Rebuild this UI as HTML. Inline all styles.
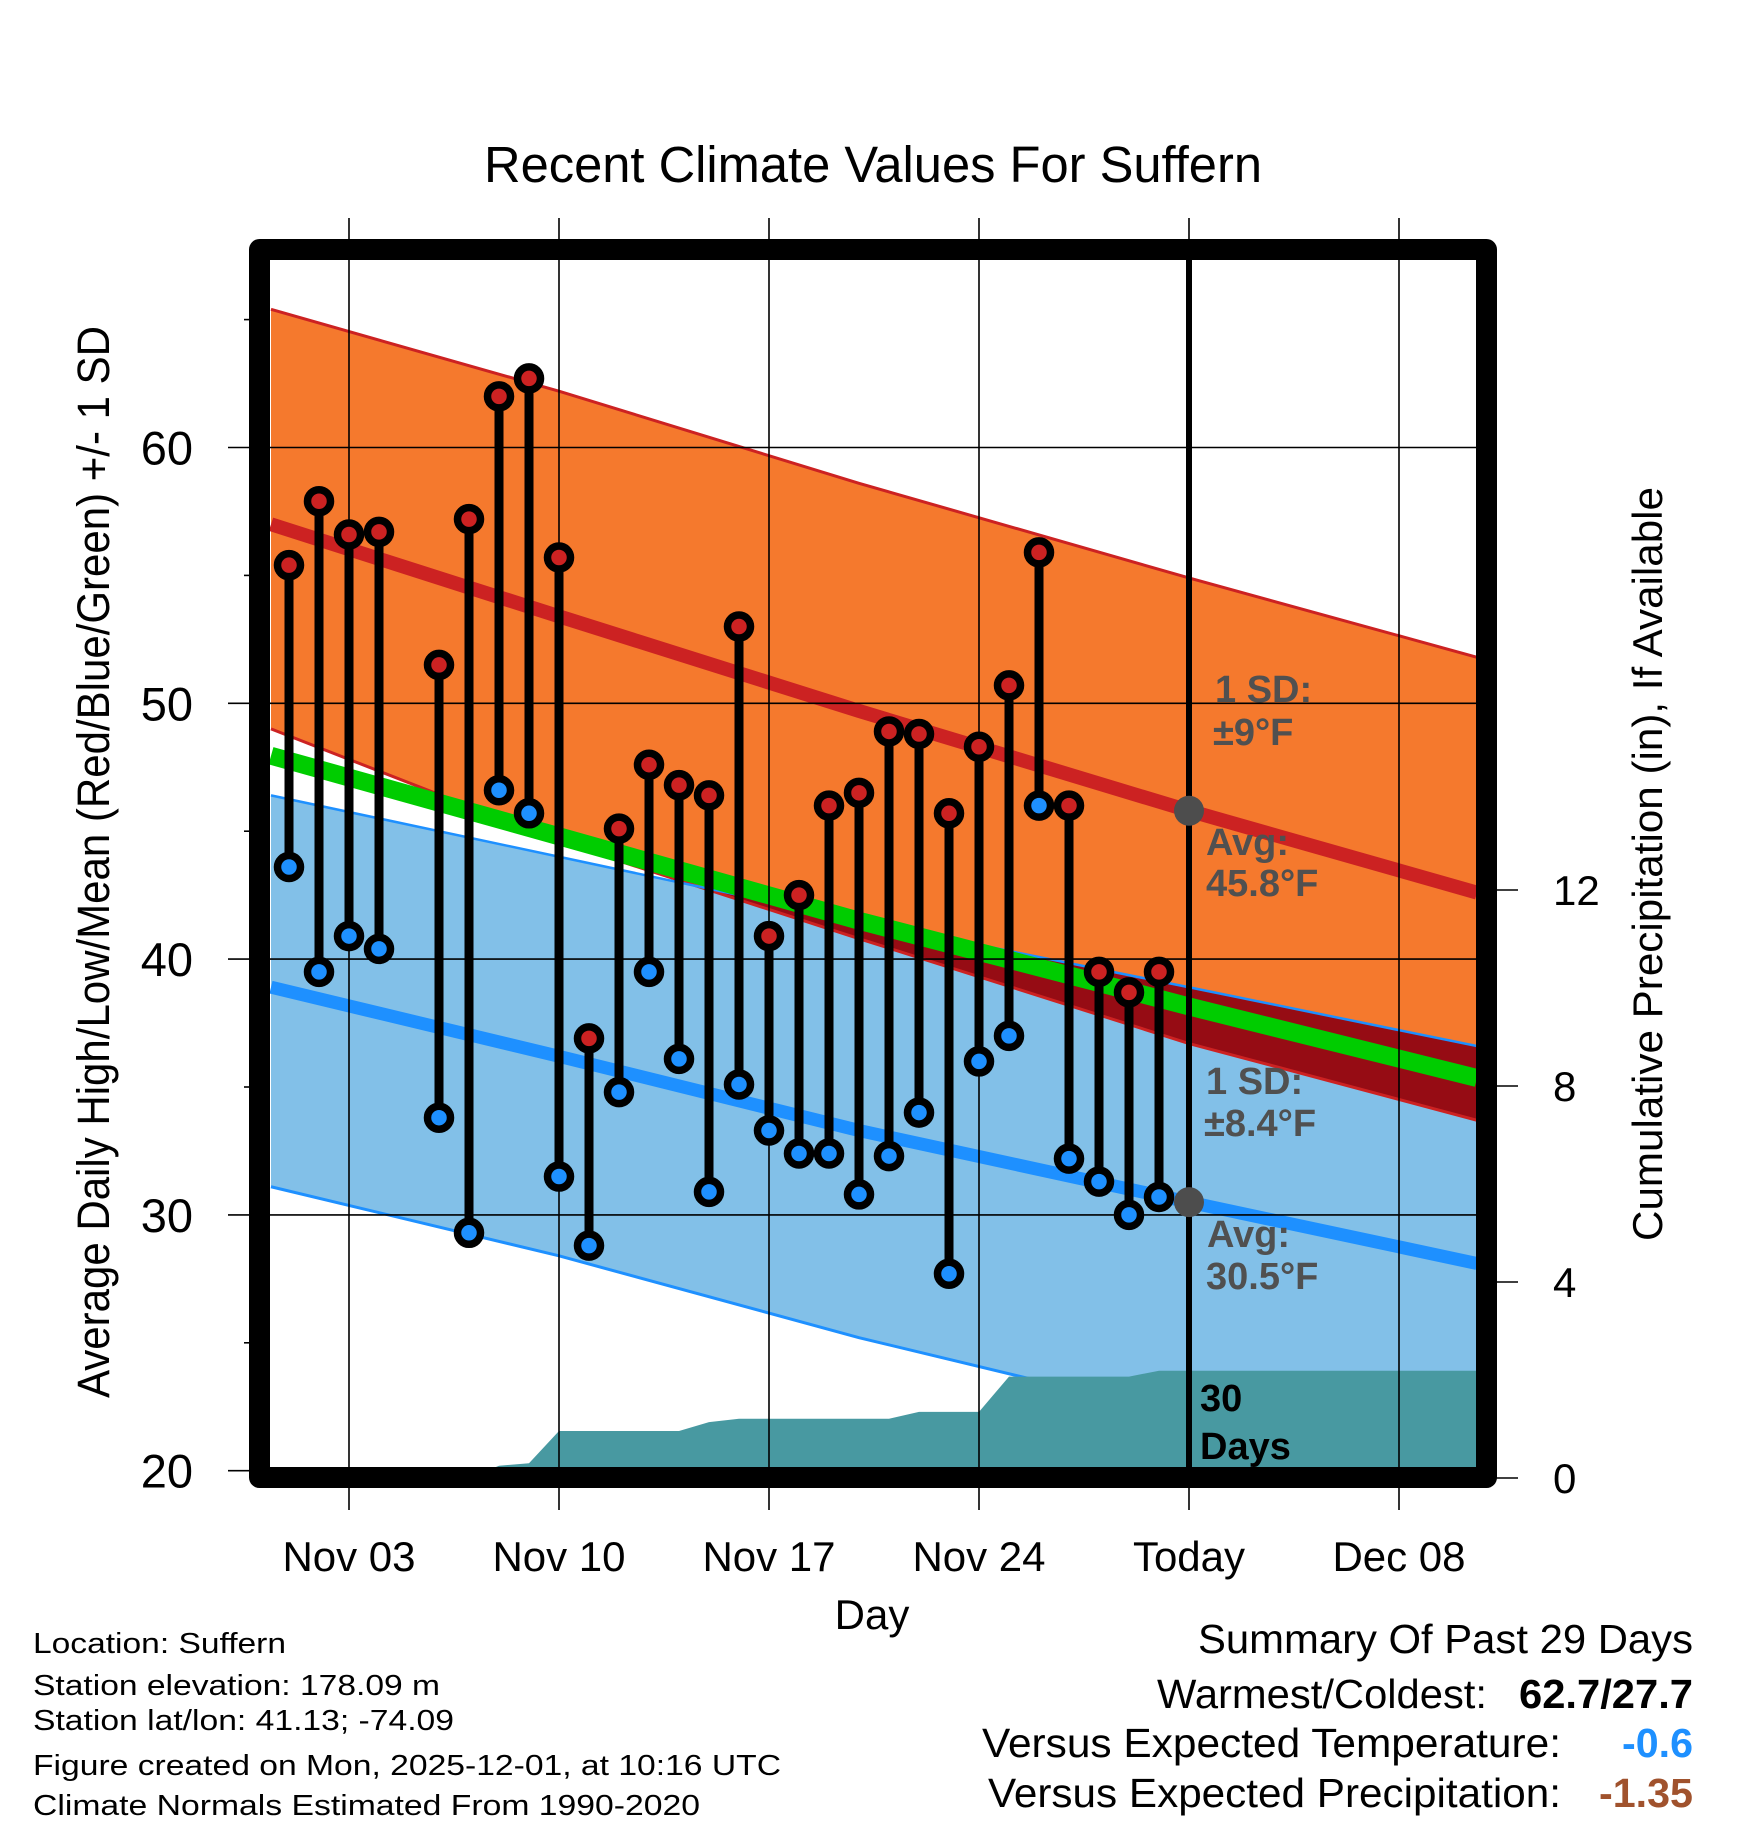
<!DOCTYPE html>
<html><head><meta charset="utf-8"><style>
html,body{margin:0;padding:0;background:#fff;}
svg{display:block;font-family:"Liberation Sans",Arial,sans-serif;}
</style></head><body>
<svg id="chart" width="1748" height="1828" viewBox="0 0 1748 1828">
<defs><clipPath id="plotclip"><rect x="270" y="260" width="1207" height="1208"/></clipPath></defs>
<text x="484" y="182" font-size="51" textLength="778" lengthAdjust="spacingAndGlyphs">Recent Climate Values For Suffern</text>
<g id="bands" clip-path="url(#plotclip)"></g>
<g id="grid"></g>
<g id="marks" clip-path="url(#plotclip)"></g>
<rect x="259.5" y="249.5" width="1227" height="1228" fill="none" stroke="#000" stroke-width="21" stroke-linejoin="round"/>
<g id="axes"></g>
<g fill="#505050" font-weight="bold" font-size="38">
<text x="1215" y="702">1 SD:</text>
<text x="1213" y="745">±9°F</text>
<text x="1206" y="855">Avg:</text>
<text x="1206" y="896">45.8°F</text>
<text x="1206" y="1094">1 SD:</text>
<text x="1204" y="1136">±8.4°F</text>
<text x="1207" y="1247">Avg:</text>
<text x="1206" y="1289">30.5°F</text>
<text x="1200" y="1411" fill="#000">30</text>
<text x="1200" y="1459" fill="#000">Days</text>
</g>
<text x="872" y="1629" font-size="42" text-anchor="middle">Day</text>
<text transform="translate(109,862) rotate(-90)" font-size="45" text-anchor="middle" textLength="1072" lengthAdjust="spacingAndGlyphs">Average Daily High/Low/Mean (Red/Blue/Green) +/- 1 SD</text>
<text transform="translate(1662,864) rotate(-90)" font-size="42" text-anchor="middle" textLength="754" lengthAdjust="spacingAndGlyphs">Cumulative Precipitation (in), If Available</text>
<g font-size="29">
<text x="33" y="1653" textLength="253" lengthAdjust="spacingAndGlyphs">Location: Suffern</text>
<text x="33" y="1695" textLength="407" lengthAdjust="spacingAndGlyphs">Station elevation: 178.09 m</text>
<text x="33" y="1730" textLength="421" lengthAdjust="spacingAndGlyphs">Station lat/lon: 41.13; -74.09</text>
<text x="33" y="1775" textLength="748" lengthAdjust="spacingAndGlyphs">Figure created on Mon, 2025-12-01, at 10:16 UTC</text>
<text x="33" y="1815" textLength="667" lengthAdjust="spacingAndGlyphs">Climate Normals Estimated From 1990-2020</text>
</g>
<g font-size="41">
<text x="1198" y="1653" textLength="495" lengthAdjust="spacingAndGlyphs">Summary Of Past 29 Days</text>
<text x="1157" y="1708" textLength="330" lengthAdjust="spacingAndGlyphs">Warmest/Coldest:</text>
<text x="1519" y="1708" font-weight="bold" textLength="174" lengthAdjust="spacingAndGlyphs">62.7/27.7</text>
<text x="982" y="1757" textLength="579" lengthAdjust="spacingAndGlyphs">Versus Expected Temperature:</text>
<text x="1622" y="1757" font-weight="bold" fill="#1e90ff" textLength="71" lengthAdjust="spacingAndGlyphs">-0.6</text>
<text x="988" y="1807" textLength="573" lengthAdjust="spacingAndGlyphs">Versus Expected Precipitation:</text>
<text x="1599" y="1807" font-weight="bold" fill="#a0522d" textLength="94" lengthAdjust="spacingAndGlyphs">-1.35</text>
</g>
</svg>
<script>
// ---- data ----
const days = [1,2,3,4,6,7,8,9,10,11,12,13,14,15,16,17,18,19,20,21,22,23,24,25,26,27,28,29,30];
const highs = [55.4,57.9,56.6,56.7,51.5,57.2,62.0,62.7,55.7,36.9,45.1,47.6,46.8,46.4,53.0,40.9,42.5,46.0,46.5,48.9,48.8,45.7,48.3,50.7,55.9,46.0,39.5,38.7,39.5];
const lows = [43.6,39.5,40.9,40.4,33.8,29.3,46.6,45.7,31.5,28.8,34.8,39.5,36.1,30.9,35.1,33.3,32.4,32.4,30.8,32.3,34.0,27.7,36.0,37.0,46.0,32.2,31.3,30.0,30.7];
const normDays = [0.4,10,20,31,40.6];
const normHigh = [57.0,53.4,49.7,45.8,42.6];
const normHighUpper = [65.4,62.2,58.6,54.9,51.8];
const normHighLower = [49.0,44.6,40.8,36.7,33.7];
const normLow = [38.9,36.2,33.3,30.5,28.1];
const normLowUpper = [46.4,44.0,41.5,38.9,36.6];
const normLowLower = [31.1,28.4,25.2,22.1,19.6];
const precipDays = [1,7,8,9,10,14,15,16,21,22,24,25,29,30,31,40.6];
const precipVals = [0,0,0.25,0.3,0.96,0.96,1.14,1.21,1.21,1.35,1.35,2.07,2.07,2.19,2.19,2.19];
const xTickDays = [3,10,17,24,31,38];
const xTickLabels = ["Nov 03","Nov 10","Nov 17","Nov 24","Today","Dec 08"];
const yTicks = [20,30,40,50,60];
const yMinor = [25,35,45,55,65];
const pTicks = [0,4,8,12];
const todayDay = 31;
const todayHigh = 45.8, todayLow = 30.5;

// ---- scales ----
const X = d => 349 + (d-3)*30;
const Y = v => 447.5 + (60-v)*25.58;
const P = p => 1478 - p*49.0;
const NS = "http://www.w3.org/2000/svg";
function mk(tag, parent, attrs){const e=document.createElementNS(NS,tag);for(const k in attrs)e.setAttribute(k,attrs[k]);parent.appendChild(e);return e;}
function interp(xs, ys, x){for(let i=0;i<xs.length-1;i++){if(x<=xs[i+1]){const t=(x-xs[i])/(xs[i+1]-xs[i]);return ys[i]+t*(ys[i+1]-ys[i]);}}return ys[ys.length-1];}
function pts(arr){return normDays.map((d,i)=>X(d)+","+Y(arr[i])).join(" ");}
function band(up, lo){return normDays.map((d,i)=>X(d)+","+Y(up[i])).join(" ")+" "+normDays.slice().reverse().map((d,j)=>X(d)+","+Y(lo[normDays.length-1-j])).join(" ");}

const bands = document.getElementById('bands');
const grid = document.getElementById('grid');
const marks = document.getElementById('marks');
const axes = document.getElementById('axes');

let pp = precipDays.map((d,i)=>X(d)+","+P(precipVals[i])).join(" ");
pp += " "+X(precipDays[precipDays.length-1])+","+P(0)+" "+X(precipDays[0])+","+P(0);

let e;
e = mk('polygon', bands, {points: band(normLowUpper, normLowLower), fill:'#82c0e8'});


e = mk('polygon', bands, {points: band(normHighUpper, normHighLower), fill:'#f5792d'});


const ov=[], ovb=[];
for(let d=0.4; d<=40.61; d+=0.2){
  const top=interp(normDays,normLowUpper,d), bot=interp(normDays,normHighLower,d);
  ov.push(X(d)+","+Y(top)); ovb.push(X(d)+","+Y(Math.min(top,bot)));
}
e = mk('polygon', bands, {points: ov.concat(ovb.reverse()).join(" "), fill:'#960c14'});


[[normHighUpper,'#cc2222',3],[normHighLower,'#cc2222',3],[normLowUpper,'#1e90ff',2.5],[normLowLower,'#1e90ff',3]].forEach(a=>{
  const l = mk('polyline', bands, {points: pts(a[0]), fill:'none', stroke:a[1], 'stroke-width':a[2]});
  
  
});
e = mk('polygon', bands, {points: pp, fill:'#4899a1'});


const meanVals = normHigh.map((v,i)=>(v+normLow[i])/2);
e = mk('polyline', bands, {points: pts(meanVals), fill:'none', stroke:'#00cc00', 'stroke-width':18});


e = mk('polyline', bands, {points: pts(normHigh), fill:'none', stroke:'#cc2222', 'stroke-width':14});


e = mk('polyline', bands, {points: pts(normLow), fill:'none', stroke:'#1e90ff', 'stroke-width':13});



xTickDays.forEach((d,i)=>{
  const x=X(d);
  const g = mk('line', grid, {x1:x,x2:x,y1:218,y2:1510,stroke:'#000','stroke-width':1.6});
  
  
  const t = mk('text', axes, {x:x,y:1571,'font-size':42,'text-anchor':'middle'});
  t.textContent = xTickLabels[i];
  
  
});
yTicks.forEach(v=>{
  const y=Y(v);
  const g = mk('line', grid, {x1:228,x2:1477,y1:y,y2:y,stroke:'#000','stroke-width':1.6});
  
  
  const t = mk('text', axes, {x:193,y:y+17,'font-size':47,'text-anchor':'end'});
  t.textContent = v;
  
  
});
yMinor.forEach(v=>{
  const g = mk('line', grid, {x1:244,x2:260,y1:Y(v),y2:Y(v),stroke:'#000','stroke-width':1.6});
  
  
});
pTicks.forEach(p=>{
  const y=P(p);
  const g = mk('line', axes, {x1:1496,x2:1518,y1:y,y2:y,stroke:'#000','stroke-width':1.6});
  
  
  const t = mk('text', axes, {x:1553,y:y+15,'font-size':42});
  t.textContent = p;
  
  
});

e = mk('line', marks, {x1:X(todayDay),x2:X(todayDay),y1:260,y2:1470,stroke:'#000','stroke-width':6});



days.forEach((d,i)=>{
  const x=X(d);
  const s = mk('line', marks, {x1:x,x2:x,y1:Y(highs[i]),y2:Y(lows[i]),stroke:'#000','stroke-width':9});
  
  
});
days.forEach((d,i)=>{
  const x=X(d);
  const h = mk('circle', marks, {cx:x,cy:Y(highs[i]),r:11.5,fill:'#cc2222',stroke:'#000','stroke-width':7.5});
  
  
  const l = mk('circle', marks, {cx:x,cy:Y(lows[i]),r:11.5,fill:'#1e90ff',stroke:'#000','stroke-width':7.5});
  
  
});
e = mk('circle', marks, {cx:X(todayDay),cy:Y(todayHigh),r:15,fill:'#4d4d4d'});


e = mk('circle', marks, {cx:X(todayDay),cy:Y(todayLow),r:15,fill:'#4d4d4d'});


</script>
</body></html>
